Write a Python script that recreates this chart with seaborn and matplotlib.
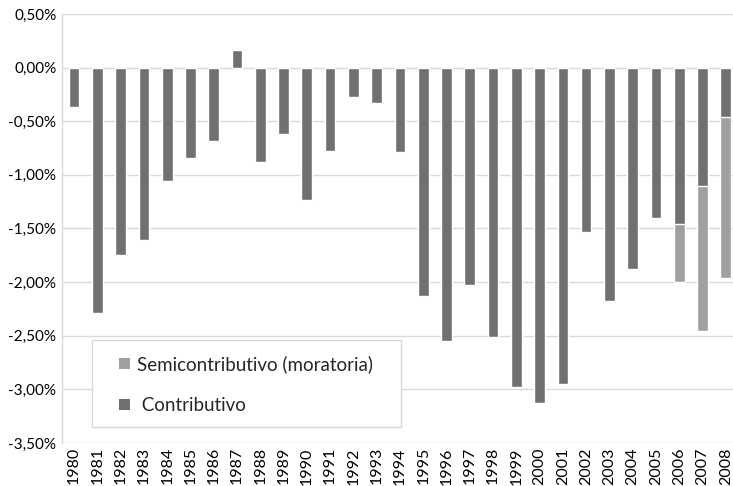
import matplotlib
matplotlib.use("Agg")
import matplotlib.pyplot as plt
import matplotlib.ticker as mticker
from matplotlib.patches import Patch, Rectangle
import numpy as np
import pandas as pd
import seaborn as sns

years = [str(y) for y in range(1980, 2009)]
contributivo = [-0.37, -2.29, -1.75, -1.61, -1.06, -0.84, -0.68, 0.16, -0.88, -0.62,
                -1.23, -0.78, -0.27, -0.33, -0.79, -2.13, -2.55, -2.03, -2.51, -2.98,
                -3.13, -2.95, -1.53, -2.18, -1.88, -1.40, -1.46, -1.10, -0.46]
semicontributivo = [0.0] * 26 + [-0.54, -1.36, -1.50]

c_dark = "#707070"
c_light = "#a0a0a0"

sns.set_theme(style="white")
plt.rcParams['font.family'] = ['Lato', 'DejaVu Sans']

df = pd.DataFrame({"year": years, "contrib": contributivo,
                   "total": np.array(contributivo) + np.array(semicontributivo)})

fig = plt.figure(figsize=(7.33, 4.86), dpi=100)
ax = fig.add_axes([62/733, 43/486, 671/733, 429/486])

sns.barplot(data=df, x="year", y="total", color=c_light, saturation=1, width=0.46, ax=ax, zorder=3)
sns.barplot(data=df, x="year", y="contrib", color=c_dark, saturation=1, width=0.46, ax=ax, zorder=3)

ax.set_ylim(-3.5, 0.5)
ax.set_xlim(-0.52, 28.31)
ax.yaxis.set_major_locator(mticker.MultipleLocator(0.5))
ax.yaxis.set_major_formatter(mticker.FuncFormatter(lambda v, p: f"{v:.2f}%".replace(".", ",")))
ax.grid(axis="y", color="#d9d9d9", linewidth=1, zorder=0)
ax.set_axisbelow(True)
for s in ["top", "right", "bottom"]:
    ax.spines[s].set_visible(False)
ax.spines["left"].set_color("#d9d9d9")
ax.spines["left"].set_linewidth(1)
ax.tick_params(axis="y", length=0, labelsize=11, colors="#000000", pad=4)
ax.tick_params(axis="x", length=0, labelsize=11.5, colors="#000000", rotation=90, pad=3)
ax.set_xlabel("")
ax.set_ylabel("")

# legend frame
ax.add_patch(Rectangle((0.0447, 0.0373), 0.46, 0.203, transform=ax.transAxes,
                       facecolor="white", edgecolor="#d9d9d9", linewidth=1, zorder=4))
handles = [Patch(facecolor=c_light, edgecolor="none"), Patch(facecolor=c_dark, edgecolor="none")]
leg = ax.legend(handles, ["Semicontributivo (moratoria)", " Contributivo"],
                loc="center left", bbox_to_anchor=(0.085, 0.136),
                fontsize=13.5, frameon=False,
                handlelength=0.59, handleheight=0.59, handletextpad=0.37,
                labelspacing=1.29, borderpad=0, borderaxespad=0)
leg.set_zorder(5)

fig.savefig("out.png", dpi=100)
